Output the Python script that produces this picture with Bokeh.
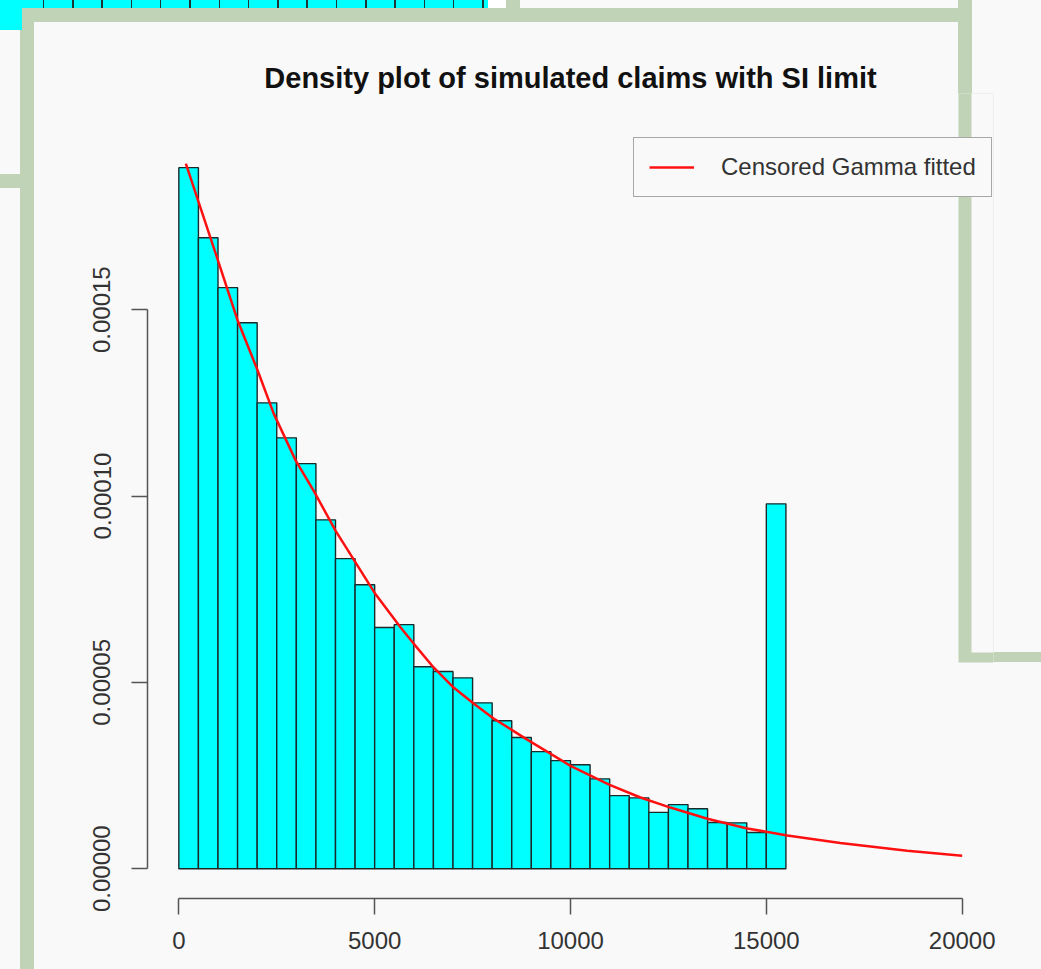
from bokeh.plotting import figure
from bokeh.models import (Range1d, FixedTicker, BoxAnnotation, Legend, LegendItem,
                          ColumnDataSource, InlineStyleSheet)
from bokeh.embed import file_html
from bokeh.resources import INLINE

# ---- data ----
breaks = [0, 500, 1000, 1500, 2000, 2500, 3000, 3500, 4000, 4500, 5000, 5500,
          6000, 6500, 7000, 7500, 8000, 8500, 9000, 9500, 10000, 10500, 11000,
          11500, 12000, 12500, 13000, 13500, 14000, 14500, 15000, 15500]
density = [0.0001881, 0.0001693, 0.0001559, 0.0001465, 0.0001250, 0.0001156,
           0.0001087, 0.0000936, 0.0000832, 0.0000762, 0.0000647, 0.0000655,
           0.0000542, 0.0000529, 0.0000512, 0.0000445, 0.0000397, 0.0000352,
           0.0000314, 0.0000290, 0.0000279, 0.0000241, 0.0000196, 0.0000190,
           0.0000151, 0.0000172, 0.0000161, 0.0000124, 0.0000123, 0.0000097,
           0.0000979]
curve_x = [179, 893, 1505, 2015, 2423, 2985, 3444, 4000, 5000, 5663, 5995, 6505,
           7015, 7526, 8036, 8852, 10000, 11000, 11786, 12551, 13495, 14515,
           15536, 16888, 18597, 20000]
curve_y = [1.892e-4, 1.666e-4, 1.470e-4, 1.336e-4, 1.221e-4, 1.095e-4, 1.014e-4,
           9.07e-5, 7.40e-5, 6.47e-5, 6.04e-5, 5.40e-5, 4.86e-5, 4.43e-5, 4.03e-5,
           3.49e-5, 2.76e-5, 2.25e-5, 1.91e-5, 1.64e-5, 1.34e-5, 1.08e-5, 8.9e-6,
           6.9e-6, 4.8e-6, 3.5e-6]
x_ticks = [0, 5000, 10000, 15000, 20000]
x_tick_labels = ["0", "5000", "10000", "15000", "20000"]
y_ticks = [0.0, 0.00005, 0.0001, 0.00015]
y_tick_labels = ["0.00000", "0.00005", "0.00010", "0.00015"]
title_text = "Density plot of simulated claims with SI limit"
legend_label = "Censored Gamma fitted"

FONT = "Liberation Sans"
BG = "#f9f9f9"
GREEN = "#c0d3b6"
CYAN = "#00ffff"

# ---- window decorations around the plot (canvas pixels: left, right, top, bottom) ----
decor = [
    (0, 22, 0, 30, CYAN, False),
    (488, 506, 0, 8, "#ffffff", False),
    (506, 520, 0, 8, GREEN, False),
    (20, 34, 8, 969, GREEN, False),
    (20, 960, 8, 22, GREEN, False),
    (0, 22, 174, 188, GREEN, False),
    (958, 972, 0, 662, GREEN, False),
    (958, 1041, 652, 662, GREEN, False),
    (0, 488, 0, 8, CYAN, True),
]
layers, sizes, positions = [], [], []
for l, r, t, b, c, striped in decor:
    if striped:
        layers.append(f"repeating-linear-gradient(90deg, {c} 0px, {c} 13.5px, "
                      f"#1f3535 13.5px, #1f3535 15px, {c} 15px, {c} 29.3px)")
    else:
        layers.append(f"linear-gradient({c}, {c})")
    sizes.append(f"{r - l}px {b - t}px")
    positions.append(f"{l}px {t}px")
css = (":host { background-color: %s; background-image: %s; background-size: %s; "
       "background-position: %s; background-repeat: no-repeat; }"
       % (BG, ", ".join(layers), ", ".join(sizes), ", ".join(positions)))

p = figure(width=1041, height=969,
           x_range=Range1d(-800, 20800), y_range=Range1d(-0.000008, 0.000208),
           output_backend="svg", toolbar_location=None,
           min_border_left=147, min_border_right=48, min_border_top=93,
           min_border_bottom=71,
           background_fill_color=BG, border_fill_color=None,
           outline_line_color=None, title=title_text,
           stylesheets=[InlineStyleSheet(css=css)])

p.title.text_font = FONT
p.title.text_font_size = "29px"
p.title.text_font_style = "bold"
p.title.text_color = "#111111"
p.title.align = "center"
p.title.standoff = 0

p.grid.visible = False

for ax, ticks, labels, bounds, standoff in (
        (p.xaxis[0], x_ticks, x_tick_labels, (0, 20000), 17),
        (p.yaxis[0], y_ticks, y_tick_labels, (0.0, 0.00015), 21)):
    ax.ticker = FixedTicker(ticks=ticks)
    ax.major_label_overrides = {t: l for t, l in zip(ticks, labels)}
    ax.bounds = bounds
    ax.minor_tick_line_color = None
    ax.major_tick_out = 16
    ax.major_tick_in = 0
    ax.axis_line_color = "#555555"
    ax.axis_line_width = 1.5
    ax.major_tick_line_color = "#555555"
    ax.major_tick_line_width = 1.5
    ax.major_label_text_font = FONT
    ax.major_label_text_font_size = "24px"
    ax.major_label_text_color = "#333333"
    ax.major_label_standoff = standoff

p.yaxis[0].major_label_orientation = "vertical"

src = ColumnDataSource(dict(left=breaks[:-1], right=breaks[1:], top=density))
p.quad(left="left", right="right", top="top", bottom=0, source=src,
       fill_color=CYAN, line_color="#1a2a2a", line_width=1.4)

curve = p.line(curve_x, curve_y, line_color="#ff1010", line_width=2.5)

legend = Legend(items=[LegendItem(label=legend_label, renderers=[curve])],
                location=(486, 701), padding=15, margin=0,
                glyph_width=45, glyph_height=24, label_standoff=27,
                label_text_font=FONT, label_text_font_size="24px",
                label_text_color="#333333",
                border_line_color="#555555", border_line_width=1.5,
                background_fill_color=BG, background_fill_alpha=1.0)
p.add_layout(legend)

# the neighbouring window that overlaps the right edge of the plot frame
def box(l, r, t, b, color):
    p.add_layout(BoxAnnotation(left=l, right=r, top=t, bottom=b,
                               left_units="canvas", right_units="canvas",
                               top_units="canvas", bottom_units="canvas",
                               fill_color=color, fill_alpha=1.0,
                               line_color=None, level="overlay"))

box(958, 1041, 0, 662, GREEN)
box(971, 1041, 0, 652, BG)

open("out.html", "w").write(file_html(p, INLINE))
